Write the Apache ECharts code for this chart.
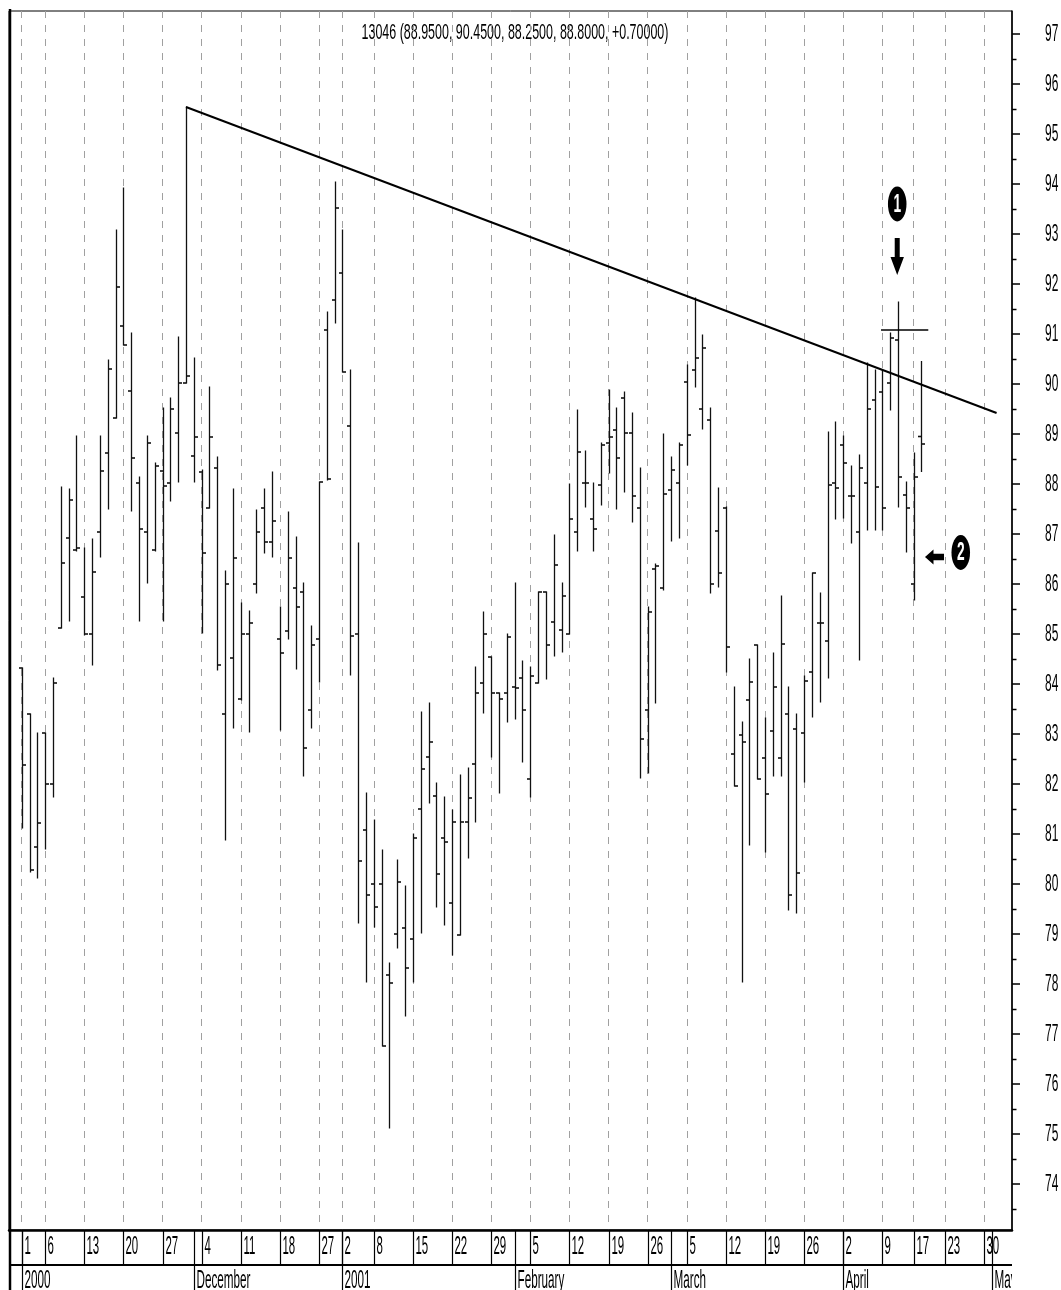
<!DOCTYPE html>
<html><head><meta charset="utf-8">
<script src="https://cdn.jsdelivr.net/npm/echarts@6/dist/echarts.min.js"></script>
<style>html,body{margin:0;padding:0;background:#fff}#c{width:1061px;height:1290px}</style>
</head><body><div id="c"></div>
<script>
// ---- data (trading-day index = array position, Nov 1 2000 = 0) ----
const openP = [84.32,83.40,80.74,83.02,82.00,85.12,86.92,86.68,85.74,85.00,
87.04,88.62,89.32,91.16,89.86,88.02,87.04,86.68,88.26,88.02,
89.02,90.02,88.56,88.24,87.52,88.32,83.40,84.52,83.70,85.00,
86.00,87.52,86.84,84.90,85.06,85.92,85.84,83.48,84.90,91.08,
91.68,92.22,89.16,85.00,81.08,80.00,80.00,78.18,79.00,79.12,
78.90,81.50,82.54,81.76,80.92,79.62,78.98,81.24,82.40,84.02,
84.54,83.82,83.82,83.94,84.12,82.10,84.02,85.84,85.24,85.08,
85.00,87.04,88.02,87.30,87.98,88.82,89.08,89.72,89.02,87.52,
83.48,86.30,85.92,87.88,88.02,90.04,90.28,89.50,89.28,87.06,
87.52,82.60,82.98,83.68,84.78,82.52,83.06,82.52,83.40,83.10,
83.02,84.24,85.22,84.86,88.02,88.78,87.76,87.04,88.02,89.68,
89.84,90.02,90.88,87.78,86.00,88.95];
const highP = [84.32,83.40,83.02,83.02,84.12,87.94,87.90,88.96,86.72,86.90,
88.96,90.48,93.08,93.92,91.02,88.14,88.96,88.42,89.52,89.72,
90.94,95.54,90.52,88.28,89.94,88.54,86.26,87.90,85.62,85.46,
87.48,87.90,88.24,85.54,87.44,86.94,86.02,85.16,88.04,91.44,
94.04,93.08,90.28,86.82,81.82,81.28,80.68,78.42,80.48,79.96,
81.00,83.44,83.62,82.02,81.74,81.48,82.18,82.32,84.34,85.44,
84.54,83.82,85.00,86.02,84.46,84.34,85.84,85.84,86.98,86.02,
88.00,89.48,88.66,88.02,88.82,89.88,89.52,89.84,89.42,88.32,
85.54,86.40,89.00,88.54,88.82,90.38,91.72,90.98,89.52,87.92,
87.54,83.94,83.24,84.50,84.78,83.32,84.62,85.76,83.94,83.40,
84.16,86.22,85.82,89.04,89.24,88.96,88.36,88.58,90.42,90.28,
90.28,91.02,91.64,88.04,88.62,90.45];
const lowP = [81.12,80.24,80.12,80.70,81.74,85.12,85.26,86.66,84.98,84.38,
86.54,87.50,89.32,90.78,87.46,85.26,86.02,86.66,85.26,87.66,
88.04,90.02,88.04,85.02,87.52,84.28,80.88,83.12,83.68,83.04,
85.82,86.62,86.54,83.08,84.90,84.30,82.16,83.12,84.04,88.08,
91.22,90.24,84.18,79.22,78.04,79.14,76.76,75.12,78.72,77.36,
78.04,79.02,81.62,79.54,79.18,78.58,78.98,80.52,81.24,83.42,
82.54,81.82,83.24,83.30,82.44,81.74,84.02,84.10,84.56,84.64,
85.00,86.66,87.54,86.66,87.58,88.22,87.50,87.84,87.24,82.12,
82.22,83.62,85.88,86.86,86.92,88.38,89.94,89.10,85.82,85.94,
84.24,81.96,78.04,80.78,82.10,80.64,82.16,82.16,79.48,79.42,
82.04,83.34,83.64,84.12,87.30,87.32,86.82,84.48,87.08,87.08,
87.08,89.48,87.54,86.64,85.68,88.25];
const closeP = [82.38,80.28,81.22,82.00,84.02,86.42,87.68,86.72,85.00,86.24,
88.26,90.30,91.94,90.78,88.52,87.10,88.82,88.36,87.96,89.50,
90.02,90.16,88.94,86.62,88.94,84.38,86.00,86.52,85.00,85.22,
87.04,86.84,87.26,84.62,86.52,85.54,82.72,84.78,88.04,88.10,
93.52,90.24,84.96,80.46,79.78,79.54,76.76,78.02,80.04,78.32,
80.92,82.30,82.84,80.20,80.84,81.24,81.24,81.72,83.82,85.00,
83.82,83.70,84.94,83.92,83.48,84.16,85.84,84.78,86.38,85.76,
87.30,88.64,88.02,87.10,88.78,88.94,88.52,89.02,87.76,82.90,
85.44,86.36,87.80,88.28,88.78,88.98,90.52,90.72,86.00,86.22,
84.74,81.96,82.84,84.04,82.10,81.80,83.94,84.80,79.78,80.22,
84.06,86.22,85.22,87.98,87.92,88.42,87.76,88.32,89.50,87.94,
87.52,90.92,88.14,87.52,88.14,88.80];

const dayTickIdx    = [0,3,8,13,18,23,28,33,38,41,45,50,55,60,65,70,75,80,85,90,95,100,105,110,114,118,123];
const dayTickLabels = ['1','6','13','20','27','4','11','18','27','2','8','15','22','29','5','12','19','26','5','12','19','26','2','9','17','23','30'];
const monthIdx    = [0,22,41,63,83,105,124];
const monthLabels = ['2000','December','2001','February','March','April','May'];
const yTicks      = [74,75,76,77,78,79,80,81,82,83,84,85,86,87,88,89,90,91,92,93,94,95,96,97];
const yMinorTicks = [73.5,74.5,75.5,76.5,77.5,78.5,79.5,80.5,81.5,82.5,83.5,84.5,85.5,86.5,87.5,88.5,89.5,90.5,91.5,92.5,93.5,94.5,95.5,96.5];
const titleText = '13046 (88.9500, 90.4500, 88.2500, 88.8000, +0.70000)';

const trendX  = [21, 124.6],      trendY  = [95.54, 89.42];
const signalX = [109.83, 115.87], signalY = [91.08, 91.08];
const noteX = [111.9, 120.02], noteY = [93.60, 86.63], noteText = ['1', '2'];
const arrowTailX = [111.9, 117.88], arrowTailY = [92.92, 86.54];
const arrowTipX  = [111.9, 115.45], arrowTipY  = [92.18, 86.54];

// ---- chart ----
const X_MIN = -1.623, X_MAX = 126.57, Y_MIN = 73.08, Y_MAX = 97.46;
const FONT = "'Liberation Sans', Arial, Helvetica, sans-serif";
const INK = '#111';

const chart = echarts.init(document.getElementById('c'));
const ohlcData = openP.map((o, i) => [i, o, highP[i], lowP[i], closeP[i]]);

function textEl(x, y, txt, size, sx, align, fill, weight) {
  return {type: 'text', x: x, y: y, scaleX: sx,
    style: {text: txt, fontFamily: FONT, fontSize: size, fontWeight: weight || 'normal',
      fill: fill || '#000', align: align || 'left', verticalAlign: 'middle'}};
}

const option = {
  animation: false,
  backgroundColor: '#fff',
  grid: {left: 9, right: 49, top: 11, bottom: 60, show: true, borderColor: '#000', borderWidth: 1, containLabel: false},
  xAxis: [{
    type: 'value', min: X_MIN, max: X_MAX, position: 'bottom',
    axisLine: {show: true, onZero: false, lineStyle: {color: '#000', width: 2.5}},
    axisTick: {show: false, customValues: dayTickIdx},
    axisLabel: {show: false, customValues: dayTickIdx},
    splitLine: {show: true, lineStyle: {color: '#a0a0a0', width: 1, type: [7, 7]}}
  }],
  yAxis: [{
    type: 'value', min: Y_MIN, max: Y_MAX, position: 'right',
    axisLine: {show: true, onZero: false, lineStyle: {color: '#000', width: 1.5}},
    axisTick: {show: true, inside: false, length: 8, customValues: yTicks, lineStyle: {color: '#000', width: 1.5}},
    axisLabel: {show: false}, splitLine: {show: false}
  }],
  series: [
    { // OHLC bars
      type: 'custom', name: 'OHLC', silent: true, z: 3, clip: false,
      encode: {x: 0, y: [1, 2, 3, 4]},
      data: ohlcData,
      renderItem: function (params, api) {
        const i = api.value(0);
        const pO = api.coord([i, api.value(1)]), pH = api.coord([i, api.value(2)]);
        const pL = api.coord([i, api.value(3)]), pC = api.coord([i, api.value(4)]);
        const x = Math.round(pH[0]) + 0.5;
        return {type: 'group', children: [
          {type: 'line', shape: {x1: x, y1: pH[1] - 0.5, x2: x, y2: pL[1] + 0.5}, style: {stroke: INK, lineWidth: 1.3}},
          {type: 'line', shape: {x1: x - 3.5, y1: pO[1], x2: x, y2: pO[1]}, style: {stroke: INK, lineWidth: 1.6}},
          {type: 'line', shape: {x1: x, y1: pC[1], x2: x + 3.5, y2: pC[1]}, style: {stroke: INK, lineWidth: 1.6}}
        ]};
      }
    },
    { // trend line
      type: 'line', silent: true, z: 4, symbol: 'none',
      data: trendX.map((x, k) => [x, trendY[k]]),
      lineStyle: {color: '#000', width: 2}
    },
    { // signal line
      type: 'line', silent: true, z: 4, symbol: 'none',
      data: signalX.map((x, k) => [x, signalY[k]]),
      lineStyle: {color: '#000', width: 1.6}
    },
    { // circled numbers
      type: 'custom', silent: true, z: 5, clip: false,
      encode: {x: 0, y: 1},
      data: noteX.map((x, k) => [x, noteY[k], k]),
      renderItem: function (params, api) {
        const p = api.coord([api.value(0), api.value(1)]);
        return {type: 'group', children: [
          {type: 'circle', x: p[0], y: p[1], scaleX: 0.53, shape: {cx: 0, cy: 0, r: 17.5}, style: {fill: '#000'}},
          textEl(p[0], p[1] + 1, noteText[api.value(2)], 25, 0.55, 'center', '#fff', 'bold')
        ]};
      }
    },
    { // arrows
      type: 'custom', silent: true, z: 5, clip: false,
      encode: {x: 0, y: 1},
      data: arrowTailX.map((x, k) => [x, arrowTailY[k], arrowTipX[k], arrowTipY[k], k]),
      renderItem: function (params, api) {
        const t = api.coord([api.value(0), api.value(1)]);
        const h = api.coord([api.value(2), api.value(3)]);
        const dx = h[0] - t[0], dy = h[1] - t[1], len = Math.hypot(dx, dy);
        const ux = dx / len, uy = dy / len, nx = -uy, ny = ux;
        const down = api.value(4) === 0;
        const Lh = down ? 18 : 8.5, Wh = down ? 6.7 : 7.5, Ws = down ? 2.5 : 3.3;
        const nkx = h[0] - ux * Lh, nky = h[1] - uy * Lh;
        const pts = [
          [t[0] + nx * Ws, t[1] + ny * Ws], [nkx + nx * Ws, nky + ny * Ws], [nkx + nx * Wh, nky + ny * Wh],
          [h[0], h[1]],
          [nkx - nx * Wh, nky - ny * Wh], [nkx - nx * Ws, nky - ny * Ws], [t[0] - nx * Ws, t[1] - ny * Ws]
        ];
        return {type: 'polygon', shape: {points: pts}, style: {fill: '#000'}};
      }
    },
    { // y-axis minor ticks
      type: 'custom', silent: true, z: 5, clip: false,
      encode: {x: 0, y: 1},
      data: yMinorTicks.map(v => [X_MAX, v]),
      renderItem: function (params, api) {
        const p = api.coord([X_MAX, api.value(1)]);
        const cs = params.coordSys, x = cs.x + cs.width;
        const y = Math.round(p[1]) + 0.5;
        return {type: 'line', shape: {x1: x, y1: y, x2: x + 4.5, y2: y}, style: {stroke: '#000', lineWidth: 1.5}};
      }
    },
    { // y-axis labels
      type: 'custom', silent: true, z: 5, clip: false,
      encode: {x: 0, y: 1},
      data: yTicks.map(v => [X_MAX, v]),
      renderItem: function (params, api) {
        const p = api.coord([X_MAX, api.value(1)]);
        const cs = params.coordSys;
        return textEl(cs.x + cs.width + 33, p[1] + 1, String(api.value(1)), 23, 0.52, 'left');
      }
    },
    { // day row
      type: 'custom', silent: true, z: 5, clip: false,
      encode: {x: 0, y: 1},
      data: dayTickIdx.map((d, k) => [d, Y_MIN, k]),
      renderItem: function (params, api) {
        const p = api.coord([api.value(0), Y_MIN]);
        const cs = params.coordSys, yTop = cs.y + cs.height;
        const x = Math.round(p[0]) + 0.5;
        return {type: 'group', children: [
          {type: 'line', shape: {x1: x, y1: yTop, x2: x, y2: yTop + 35}, style: {stroke: '#000', lineWidth: 1.2}},
          textEl(x + 2, yTop + 17, dayTickLabels[api.value(2)], 26, 0.44, 'left')
        ]};
      }
    },
    { // month row
      type: 'custom', silent: true, z: 5, clip: false,
      encode: {x: 0, y: 1},
      data: monthIdx.map((d, k) => [d, Y_MIN, k]),
      renderItem: function (params, api) {
        const p = api.coord([api.value(0), Y_MIN]);
        const cs = params.coordSys, yTop = cs.y + cs.height;
        const x = Math.round(p[0]) + 0.5;
        const right = cs.x + cs.width;
        return {type: 'group', children: [
          {type: 'line', shape: {x1: x, y1: yTop, x2: x, y2: yTop + 62}, style: {stroke: '#000', lineWidth: 1.2}},
          Object.assign(textEl(x + 2, yTop + 51, monthLabels[api.value(2)], 26, 0.45, 'left'), {
            clipPath: {type: 'rect', shape: {x: 0, y: -40, width: (right - x - 2) / 0.45, height: 80}}
          })
        ]};
      }
    }
  ],
  graphic: [
    {type: 'text', x: 515, y: 33, scaleX: 0.567, silent: true,
     style: {text: titleText, fontFamily: FONT, fontSize: 22, fill: '#000', align: 'center', verticalAlign: 'middle'}},
    {type: 'line', silent: true, shape: {x1: 10, y1: 9, x2: 10, y2: 1290}, style: {stroke: '#000', lineWidth: 2.5}},
    {type: 'line', silent: true, shape: {x1: 9, y1: 1265, x2: 1012, y2: 1265}, style: {stroke: '#000', lineWidth: 2}}
  ]
};
chart.setOption(option);
</script>
</body></html>
